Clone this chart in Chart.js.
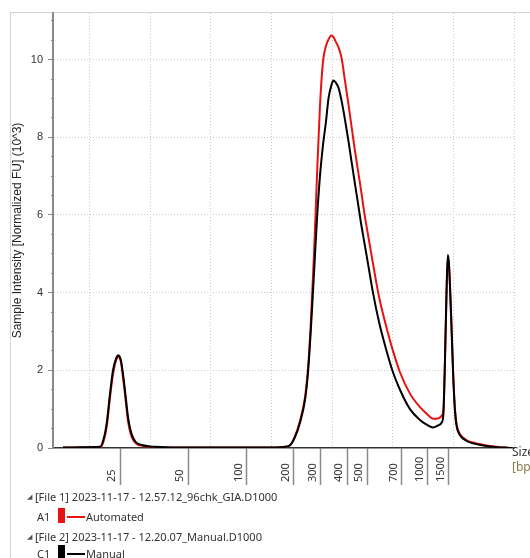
<!DOCTYPE html>
<html><head><meta charset="utf-8">
<script src="https://cdn.jsdelivr.net/npm/chart.js@4.4.1/dist/chart.umd.min.js"></script>
<style>
html,body{margin:0;padding:0;background:#fff;}
#wrap{position:relative;width:530px;height:558px;overflow:hidden;background:#fff;}
#frame{position:absolute;left:10px;top:12px;width:540px;height:560px;border-left:1.5px solid #d4d4d4;border-top:1.5px solid #d4d4d4;box-sizing:border-box;}
#chart{position:absolute;left:0;top:0;}
.lg{position:absolute;font-family:"Noto Sans",sans-serif;font-size:11px;color:#333;line-height:16px;white-space:nowrap;}
.tri{position:absolute;font-size:7px;color:#555;line-height:16px;}
.sw{position:absolute;width:7px;}
.ln{position:absolute;height:2px;width:18px;}
</style></head>
<body>
<div id="wrap">
<div id="frame"></div>
<canvas id="chart" width="530" height="558"></canvas>
<div id="legend"></div>
</div>
<script>
// migration position (arbitrary run units) shared by both traces
const positions = [5.65, 8.45, 11.75, 12.29, 12.85, 13.40, 13.89, 14.39, 14.76, 15.21, 15.54, 15.87, 16.41, 17.24, 18.89, 20.81, 24.94, 31.53, 38.12, 41.42, 42.25, 43.07, 43.89, 44.72, 45.54, 46.04, 46.53, 47.03, 47.52, 48.01, 48.51, 49.00, 49.42, 49.91, 50.24, 50.65, 51.06, 51.56, 52.14, 52.71, 53.29, 53.78, 54.28, 54.77, 55.43, 56.09, 56.75, 57.74, 58.90, 60.05, 61.20, 62.85, 64.50, 65.82, 66.64, 67.47, 68.13, 68.37, 68.62, 68.87, 69.08, 69.28, 69.61, 69.99, 70.27, 70.55, 71.09, 72.20, 73.24, 76.04, 78.51, 79.67];
// Sample intensity (10^3 normalized FU)
const automated = [0.01, 0.01, 0.02, 0.15, 0.55, 1.3, 1.9, 2.25, 2.34, 2.2, 1.82, 1.38, 0.65, 0.2, 0.05, 0.02, 0.01, 0.01, 0.01, 0.02, 0.03, 0.07, 0.3, 0.7, 1.3, 2.05, 3.3, 5.0, 7.0, 8.8, 9.95, 10.35, 10.52, 10.62, 10.58, 10.45, 10.32, 10.05, 9.45, 8.85, 8.2, 7.65, 7.15, 6.65, 5.95, 5.35, 4.75, 3.9, 3.15, 2.5, 1.95, 1.4, 1.05, 0.85, 0.75, 0.76, 0.84, 1.0, 2.2, 3.9, 4.88, 4.7, 3.5, 1.85, 1.0, 0.6, 0.36, 0.2, 0.14, 0.05, 0.01, 0.0];
const manual = [0.01, 0.02, 0.03, 0.2, 0.63, 1.4, 2.0, 2.3, 2.39, 2.25, 1.9, 1.48, 0.75, 0.25, 0.07, 0.03, 0.01, 0.01, 0.01, 0.02, 0.03, 0.07, 0.28, 0.65, 1.23, 1.95, 3.1, 4.5, 5.9, 7.0, 7.8, 8.4, 9.0, 9.35, 9.46, 9.4, 9.28, 8.95, 8.45, 7.9, 7.3, 6.8, 6.3, 5.8, 5.2, 4.6, 4.0, 3.25, 2.55, 1.95, 1.5, 1.0, 0.72, 0.58, 0.53, 0.58, 0.67, 0.9, 2.3, 4.0, 4.97, 4.75, 3.5, 1.8, 0.95, 0.55, 0.33, 0.18, 0.12, 0.04, 0.01, 0.0];
// ladder sizes (bp) and their migration positions
const ladderSizes = [25, 50, 100, 200, 300, 400, 500, 700, 1000, 1500];
const ladderPos = [15.05, 26.26, 35.98, 43.73, 48.18, 52.47, 55.77, 61.53, 65.82, 69.28];
const yLabelStep = 2;
const yMinorStep = 0.5;
const xGridStep = 10;
const seriesNames = ['Automated', 'Manual'];
const seriesColors = ['#e81212', '#000000'];
const wells = ['A1', 'C1'];
const fileLabels = ['[File 1] 2023-11-17 - 12.57.12_96chk_GIA.D1000', '[File 2] 2023-11-17 - 12.20.07_Manual.D1000'];
const yTitle = 'Sample Intensity [Normalized FU] (10^3)';

// legend (HTML)
const lg = document.getElementById('legend');
let html = '';
const rowTops = [489, 509, 529, 546];
for (let i = 0; i < 2; i++) {
  const t1 = rowTops[i * 2], t2 = rowTops[i * 2 + 1];
  html += `<div class="tri" style="left:27px;top:${t1}px">◢</div>`;
  html += `<div class="lg" style="left:35px;top:${t1}px">${fileLabels[i]}</div>`;
  html += `<div class="lg" style="left:37px;top:${t2}px">${wells[i]}</div>`;
  html += `<div class="sw" style="left:58px;top:${t2 - 1}px;height:15px;background:${seriesColors[i]}"></div>`;
  html += `<div class="ln" style="left:67px;top:${t2 + 7}px;background:${seriesColors[i]}"></div>`;
  html += `<div class="lg" style="left:86px;top:${t2}px">${seriesNames[i]}</div>`;
}
lg.innerHTML = html;

const isMajor = v => Math.abs(v / yLabelStep - Math.round(v / yLabelStep)) < 1e-6;

const ladderPlugin = {
  id: 'ladder',
  afterDraw(chart) {
    const ctx = chart.ctx, xs = chart.scales.x, ca = chart.chartArea;
    ctx.save();
    ctx.fillStyle = '#333';
    ctx.font = '11px "Noto Sans", sans-serif';
    ctx.textAlign = 'left';
    ctx.textBaseline = 'middle';
    ladderPos.forEach((p, i) => {
      const px = xs.getPixelForValue(p);
      ctx.save();
      ctx.translate(px - 8.5, ca.bottom + 34);
      ctx.rotate(-Math.PI / 2);
      ctx.fillText(String(ladderSizes[i]), 0, 0);
      ctx.restore();
    });
    ctx.font = '12px "Noto Sans", sans-serif';
    ctx.fillStyle = '#333';
    ctx.fillText('Size', ca.right - 2, ca.bottom + 5);
    ctx.fillStyle = '#8c7a4a';
    ctx.fillText('[bp]', ca.right - 2, ca.bottom + 20);
    ctx.restore();
  }
};

new Chart(document.getElementById('chart'), {
  type: 'line',
  data: {
    datasets: [
      { label: seriesNames[0], data: positions.map((x, i) => ({ x, y: automated[i] })), borderColor: seriesColors[0], borderWidth: 2, order: 2 },
      { label: seriesNames[1], data: positions.map((x, i) => ({ x, y: manual[i] })), borderColor: seriesColors[1], borderWidth: 2, order: 1 }
    ]
  },
  options: {
    responsive: false,
    animation: false,
    layout: { padding: { top: 13, right: 16, left: 0, bottom: 0 } },
    elements: { point: { radius: 0 }, line: { cubicInterpolationMode: 'monotone', fill: false } },
    plugins: { legend: { display: false }, tooltip: { enabled: false } },
    scales: {
      x: {
        type: 'linear', position: 'bottom', min: 4, max: 80,
        afterBuildTicks: s => { s.ticks = ladderPos.map(v => ({ value: v })); },
        afterFit: s => { s.height = 110; },
        ticks: { display: false, autoSkip: false },
        grid: { drawOnChartArea: false, drawTicks: true, tickLength: 37, tickColor: '#8a8a8a', tickWidth: 1.5, color: '#8a8a8a' },
        border: { display: true, color: '#333', width: 1.5 }
      },
      x2: {
        type: 'linear', position: 'top', min: 4, max: 80,
        afterBuildTicks: s => { const t = []; for (let v = xGridStep; v <= s.max + 1e-9; v += xGridStep) t.push({ value: v }); s.ticks = t; },
        afterFit: s => { s.height = 0; },
        ticks: { display: false },
        grid: { drawTicks: false, color: '#c8c8c8', lineWidth: 1 },
        border: { display: false, dash: [1, 2] }
      },
      y: {
        type: 'linear', min: 0, max: 11.2,
        afterBuildTicks: s => { const t = []; for (let v = 0; v <= s.max + 1e-9; v += yMinorStep) t.push({ value: Math.round(v * 2) / 2 }); s.ticks = t; },
        afterFit: s => { s.width = 53; },
        ticks: {
          autoSkip: false, padding: 5, color: '#333',
          font: { family: '"Liberation Sans", Arial, sans-serif', size: 11 },
          callback: v => (isMajor(v) ? String(v) : '')
        },
        grid: {
          tickLength: 5,
          color: c => (c.tick && c.tick.value > 0 && isMajor(c.tick.value)) ? '#c8c8c8' : 'rgba(0,0,0,0)',
          tickColor: '#8a8a8a',
          tickWidth: 1,
          tickBorderDash: c => (c.tick && isMajor(c.tick.value)) ? [] : [0, 3, 2, 0]
        },
        border: { display: true, color: '#8a8a8a', width: 2, dash: [1, 2] },
        title: {
          display: true, text: yTitle, color: '#222',
          font: { family: '"Liberation Sans", Arial, sans-serif', size: 12 },
          padding: { top: 10, bottom: 0 }
        }
      }
    }
  },
  plugins: [ladderPlugin]
});
</script>
</body></html>
